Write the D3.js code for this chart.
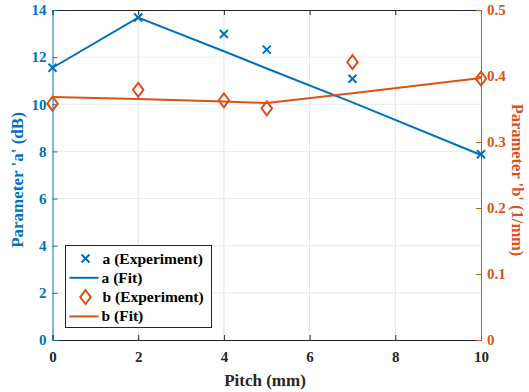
<!DOCTYPE html>
<html>
<head>
<meta charset="utf-8">
<script src="https://cdn.jsdelivr.net/npm/d3@7"></script>
<style>
  body { margin: 0; background: #fff; }
  svg text { font-family: "Liberation Serif", "Times New Roman", serif; font-weight: bold; }
</style>
</head>
<body>
<div id="chart"></div>
<script>
// pitch values (mm)
const pitch = [0, 2, 4, 5, 7, 10];
const aExperiment = [11.55, 13.68, 12.98, 12.32, 11.08, 7.88];
const aFit = [11.55, 13.68, 12.25, 11.52, 10.08, 7.85];
const bExperiment = [0.358, 0.379, 0.363, 0.351, 0.421, 0.396];
const bFit = [0.368, 0.365, 0.3615, 0.359, 0.374, 0.397];

const xTicks = [0, 2, 4, 6, 8, 10];
const yLeftTicks = [0, 2, 4, 6, 8, 10, 12, 14];
const yRightTicks = [0, 0.1, 0.2, 0.3, 0.4, 0.5];
const legendLabels = ['a (Experiment)', 'a (Fit)', 'b (Experiment)', 'b (Fit)'];

const blue = '#0072BD';
const orange = '#D95319';

const width = 529, height = 392;
const margin = { top: 10, right: 48, bottom: 52, left: 52.5 };
const w = width - margin.left - margin.right;
const h = height - margin.top - margin.bottom;

const svg = d3.select('#chart').append('svg')
  .attr('width', width)
  .attr('height', height);

const g = svg.append('g')
  .attr('transform', `translate(${margin.left},${margin.top})`);

const x = d3.scaleLinear().domain([0, 10]).range([0, w]);
const yL = d3.scaleLinear().domain([0, 14]).range([h, 0]);
const yR = d3.scaleLinear().domain([0, 0.5]).range([h, 0]);

// grid
g.append('g')
  .selectAll('line.vg')
  .data(xTicks.slice(1, -1))
  .join('line')
  .attr('x1', d => x(d)).attr('x2', d => x(d))
  .attr('y1', 0).attr('y2', h)
  .attr('stroke', '#e3e3e3').attr('stroke-width', 1);
g.append('g')
  .selectAll('line.hg')
  .data(yLeftTicks.slice(1, -1))
  .join('line')
  .attr('x1', 0).attr('x2', w)
  .attr('y1', d => yL(d)).attr('y2', d => yL(d))
  .attr('stroke', '#e3eef7').attr('stroke-width', 1);

// axes
g.append('g')
  .attr('transform', `translate(0,${h})`)
  .call(d3.axisBottom(x).tickValues(xTicks).tickSize(-5).tickPadding(11).tickFormat(d3.format('d')))
  .call(a => a.select('.domain').attr('stroke', '#262626'))
  .call(a => a.selectAll('.tick line').attr('stroke', '#262626'))
  .call(a => a.selectAll('text').attr('fill', '#262626').style('font-size', '15px'));

g.append('g')
  .call(d3.axisTop(x).tickValues(xTicks).tickSize(-5).tickFormat(''))
  .call(a => a.select('.domain').attr('stroke', '#262626'))
  .call(a => a.selectAll('.tick line').attr('stroke', '#262626'));

g.append('g')
  .call(d3.axisLeft(yL).tickValues(yLeftTicks).tickSize(-5).tickPadding(6).tickFormat(d3.format('d')))
  .call(a => a.select('.domain').attr('stroke', blue))
  .call(a => a.selectAll('.tick line').attr('stroke', blue))
  .call(a => a.selectAll('text').attr('fill', blue).style('font-size', '15px'));

g.append('g')
  .attr('transform', `translate(${w},0)`)
  .call(d3.axisRight(yR).tickValues(yRightTicks).tickSize(-5).tickPadding(6).tickFormat(d => d === 0 ? '0' : d3.format('.1f')(d)))
  .call(a => a.select('.domain').attr('stroke', orange))
  .call(a => a.selectAll('.tick line').attr('stroke', orange))
  .call(a => a.selectAll('text').attr('fill', orange).style('font-size', '15px'));

// axis labels
svg.append('text')
  .attr('transform', `translate(23,180) rotate(-90)`)
  .attr('text-anchor', 'middle')
  .attr('fill', blue)
  .style('font-size', '17px')
  .text("Parameter 'a' (dB)");

svg.append('text')
  .attr('transform', `translate(512,180) rotate(90)`)
  .attr('text-anchor', 'middle')
  .attr('fill', orange)
  .style('font-size', '16.5px')
  .text("Parameter 'b' (1/mm)");

svg.append('text')
  .attr('x', 265)
  .attr('y', 386)
  .attr('text-anchor', 'middle')
  .attr('fill', '#262626')
  .style('font-size', '17px')
  .text('Pitch (mm)');

// fit lines
g.append('path')
  .datum(pitch.map((p, i) => [p, aFit[i]]))
  .attr('fill', 'none').attr('stroke', blue).attr('stroke-width', 2)
  .attr('d', d3.line().x(d => x(d[0])).y(d => yL(d[1])));

g.append('path')
  .datum(pitch.map((p, i) => [p, bFit[i]]))
  .attr('fill', 'none').attr('stroke', orange).attr('stroke-width', 2)
  .attr('d', d3.line().x(d => x(d[0])).y(d => yR(d[1])));

// markers
const cross = s => `M${-s},${-s}L${s},${s}M${-s},${s}L${s},${-s}`;
const diamond = s => `M0,${-s}L${s * 0.75},0L0,${s}L${-s * 0.75},0Z`;

g.append('g')
  .selectAll('path')
  .data(pitch.map((p, i) => [p, aExperiment[i]]))
  .join('path')
  .attr('transform', d => `translate(${x(d[0])},${yL(d[1])})`)
  .attr('d', cross(4))
  .attr('fill', 'none').attr('stroke', blue).attr('stroke-width', 2);

g.append('g')
  .selectAll('path')
  .data(pitch.map((p, i) => [p, bExperiment[i]]))
  .join('path')
  .attr('transform', d => `translate(${x(d[0])},${yR(d[1])})`)
  .attr('d', diamond(7))
  .attr('fill', 'none').attr('stroke', orange).attr('stroke-width', 2);

// legend
const lg = svg.append('g').attr('transform', 'translate(65.5,245.5)');
lg.append('rect')
  .attr('width', 146).attr('height', 82)
  .attr('fill', '#fff').attr('stroke', '#262626').attr('stroke-width', 1);

const legendStyle = [
  { color: blue, kind: 'cross' },
  { color: blue, kind: 'line' },
  { color: orange, kind: 'diamond' },
  { color: orange, kind: 'line' }
];

legendLabels.forEach((label, i) => {
  const yy = 13 + i * 19.3;
  const st = legendStyle[i];
  if (st.kind === 'line') {
    lg.append('line').attr('x1', 4).attr('x2', 33).attr('y1', yy).attr('y2', yy)
      .attr('stroke', st.color).attr('stroke-width', 2);
  } else {
    lg.append('path')
      .attr('transform', `translate(20,${yy})`)
      .attr('d', st.kind === 'cross' ? cross(4) : diamond(7))
      .attr('fill', 'none').attr('stroke', st.color).attr('stroke-width', 2);
  }
  lg.append('text')
    .attr('x', st.kind === 'line' ? 36 : 37)
    .attr('y', yy + 5)
    .attr('fill', '#000')
    .style('font-size', '15.5px')
    .text(label);
});
</script>
</body>
</html>
